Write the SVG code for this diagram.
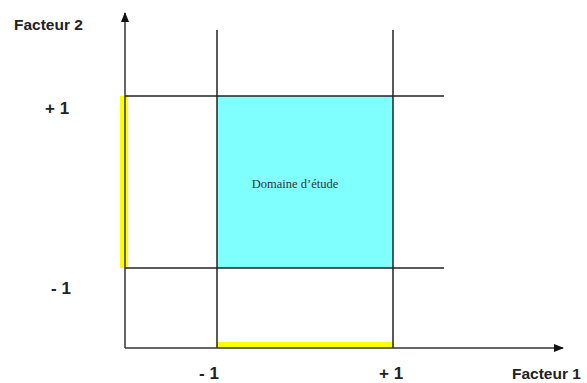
<svg xmlns="http://www.w3.org/2000/svg" width="587" height="383" viewBox="0 0 587 383">
<style>
.lbl{font-family:"Liberation Sans",Arial,sans-serif;font-weight:bold;font-size:15.5px;fill:#222}
.num{font-family:"Liberation Sans",Arial,sans-serif;font-weight:bold;font-size:17px;fill:#222}
.grid{stroke:#222;stroke-width:1.5;fill:none}
.axis{stroke:#333;stroke-width:1.5;fill:none}
</style>
<defs>
<marker id="arr" markerWidth="10" markerHeight="8" refX="9" refY="4" orient="auto" markerUnits="userSpaceOnUse" viewBox="0 0 10 8">
<path d="M0,0 L10,4 L0,8 z" fill="#111"/>
</marker>
</defs>
<rect width="587" height="383" fill="#fff"/>
<g id="domaine">
<rect x="217" y="96" width="176" height="172" fill="#80ffff"/>
<text x="295" y="188" text-anchor="middle" font-family="Liberation Serif,serif" font-size="12.5" fill="#333">Domaine d’étude</text>
</g>
<g id="yellow-bars">
<rect x="120" y="96" width="8" height="172" fill="#ffff00"/>
<rect x="217" y="342" width="176" height="5" fill="#ffff00"/>
</g>
<g id="connectors">
<line class="grid" x1="217" y1="30" x2="217" y2="348"/>
<line class="grid" x1="393" y1="30" x2="393" y2="348"/>
<line class="grid" x1="125" y1="96" x2="444" y2="96"/>
<line class="grid" x1="125" y1="268" x2="444" y2="268"/>
<line class="axis" x1="125" y1="348" x2="125" y2="13" marker-end="url(#arr)"/>
<line class="axis" x1="125" y1="348" x2="563" y2="348" marker-end="url(#arr)"/>
</g>
<g id="labels">
<text class="lbl" x="14" y="30">Facteur 2</text>
<text class="num" x="45" y="114">+ 1</text>
<text class="num" x="51" y="294">- 1</text>
<text class="num" x="199" y="379">- 1</text>
<text class="num" x="379" y="379">+ 1</text>
<text class="lbl" x="512" y="379">Facteur 1</text>
</g>
</svg>
